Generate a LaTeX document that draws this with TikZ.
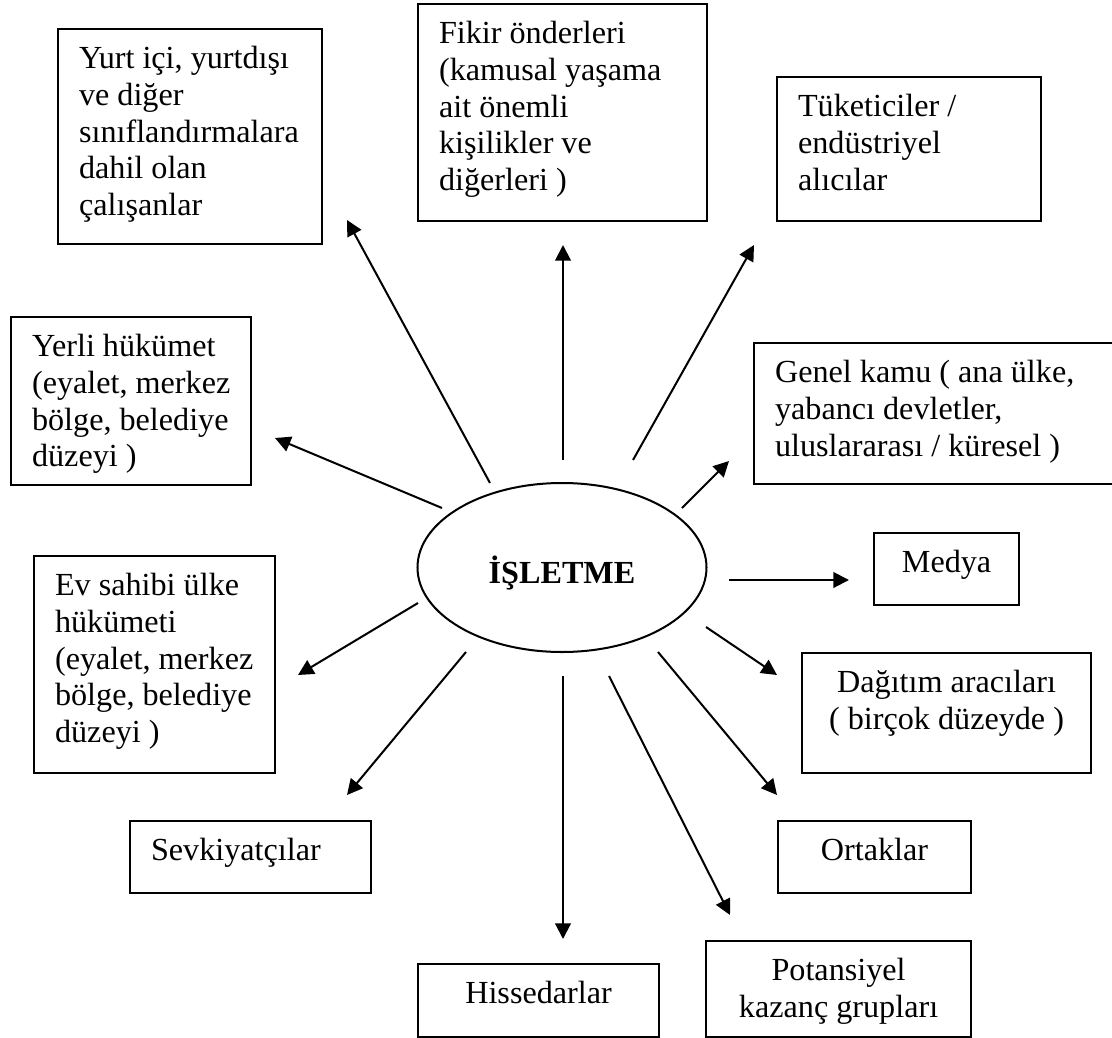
\documentclass[tikz,border=0pt]{standalone}
\usepackage{fontspec}
\setmainfont{Liberation Serif}
\usetikzlibrary{arrows.meta,shapes.geometric}
\newlength{\px}
\setlength{\px}{0.373pt}
\newcommand{\kutuyazi}[4]{\parbox[c][#2\px][t]{#1\px}{#3\vspace*{14\px}\strut#4}}
\tikzset{
  kutu/.style={draw,line width=0.8pt,anchor=north west,inner sep=0pt,font=\fontsize{12pt}{13.7pt}\selectfont},
  ok/.style={line width=0.75pt,-{Triangle[length=5.8pt,width=5.8pt]}}
}

\begin{document}
\begin{tikzpicture}[x=0.373pt,y=-0.373pt]
  \useasboundingbox (0,0) rectangle (1112,1038);
  \node[draw,ellipse,line width=0.75pt,minimum width=289\px,minimum height=169\px,inner sep=0pt,
        text height=12pt,text depth=0.4pt,font=\fontsize{12pt}{13.7pt}\selectfont\bfseries] (isletme) at (562,567.5) {İŞLETME};
  \foreach \ad/\x/\y/\w/\h/\metin in {
    yurt/57/28/264/215/{Yurt içi, yurtdışı\\ve diğer\\sınıflandırmalara\\dahil olan\\çalışanlar},
    fikir/417/3/289/217/{Fikir önderleri\\(kamusal yaşama\\ait önemli\\kişilikler ve\\diğerleri )},
    tuketici/776/76/264/144/{Tüketiciler /\\endüstriyel\\alıcılar},
    yerli/10/316/240/168/{Yerli hükümet\\(eyalet, merkez\\bölge, belediye\\düzeyi )},
    genel/753/342/361/141/{Genel kamu ( ana ülke,\\yabancı devletler,\\uluslararası / küresel )},
    evsahibi/33/555/241/217/{Ev sahibi ülke\\hükümeti\\(eyalet, merkez\\bölge, belediye\\düzeyi )},
    sevk/129/820/241/72/{Sevkiyatçılar}}
    \node[kutu] (\ad) at (\x,\y) {\kutuyazi{\w}{\h}{\raggedright\leftskip=21\px}{\metin}};
  \foreach \ad/\x/\y/\w/\h/\metin in {
    medya/873/532/145/72/{Medya},
    dagitim/801/652/289/120/{Dağıtım aracıları\\( birçok düzeyde )},
    ortak/777/820/193/72/{Ortaklar},
    hisse/417/963/241/73/{Hissedarlar},
    potansiyel/705/940/265/96/{Potansiyel\\kazanç grupları}}
    \node[kutu] (\ad) at (\x,\y) {\kutuyazi{\w}{\h}{\centering}{\metin}};
  \foreach \ad/\kx/\ky/\ux/\uy in {yurt/490/483/347/220, fikir/563/460/563/245, tuketici/633/460/754/245,
      yerli/442/508/275/438, genel/682/508/729/461, medya/729/580/849/580, evsahibi/418/603/298/675,
      dagitim/706/627/777/675, sevk/466/652/347/795, hisse/563/676/563/939, ortak/658/652/777/795,
      potansiyel/609/676/730/915} {
    \coordinate (k\ad) at (\kx,\ky);
    \coordinate (u\ad) at (\ux,\uy);
    \draw[ok] (k\ad) -- (u\ad);
  }
\end{tikzpicture}
\end{document}
